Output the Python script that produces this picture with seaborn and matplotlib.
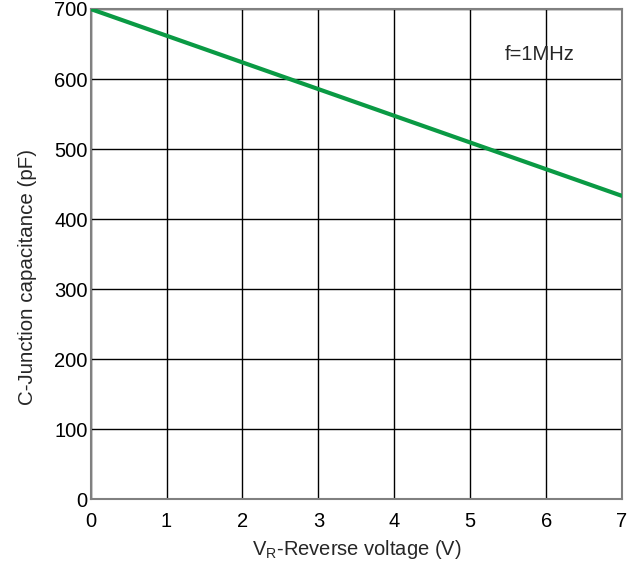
import matplotlib
matplotlib.use("Agg")
import matplotlib.pyplot as plt
import seaborn as sns
import pandas as pd

# Junction capacitance vs reverse voltage
voltage = [0, 7]
capacitance = [700, 433]
x_ticks = [0, 1, 2, 3, 4, 5, 6, 7]
y_ticks = [0, 100, 200, 300, 400, 500, 600, 700]

sns.set_theme(style="white")
plt.rcParams["font.family"] = ["Liberation Sans", "DejaVu Sans"]

df = pd.DataFrame({"V": voltage, "C": capacitance})

fig = plt.figure(figsize=(6.38, 5.62), dpi=100)
ax = fig.add_axes([0.142, 0.112, 0.833, 0.872])

sns.lineplot(data=df, x="V", y="C", ax=ax, color="#0a9a44", linewidth=3, zorder=3)

ax.set_xlim(0, 7)
ax.set_ylim(0, 700)
ax.set_xticks(x_ticks)
ax.set_yticks(y_ticks)
ax.grid(True, color="black", linewidth=1.0)
ax.set_axisbelow(True)
for s in ax.spines.values():
    s.set_color("#808080")
    s.set_linewidth(1.5)
ax.tick_params(axis="both", length=0, labelsize=14.5, colors="black")
ax.tick_params(axis="y", pad=2)
ax.tick_params(axis="x", pad=9)

ax.set_xlabel("V$_\\mathregular{R}$-Reverse voltage (V)", fontsize=14.5, labelpad=5)
ax.set_ylabel("C-Junction capacitance (pF)", fontsize=14.8, labelpad=12.5)
ax.yaxis.set_label_coords(-0.1, 0.453)

ax.text(5.46, 635, "f=1MHz", fontsize=14.5, va="center", ha="left")

fig.savefig("out.png", dpi=100)
